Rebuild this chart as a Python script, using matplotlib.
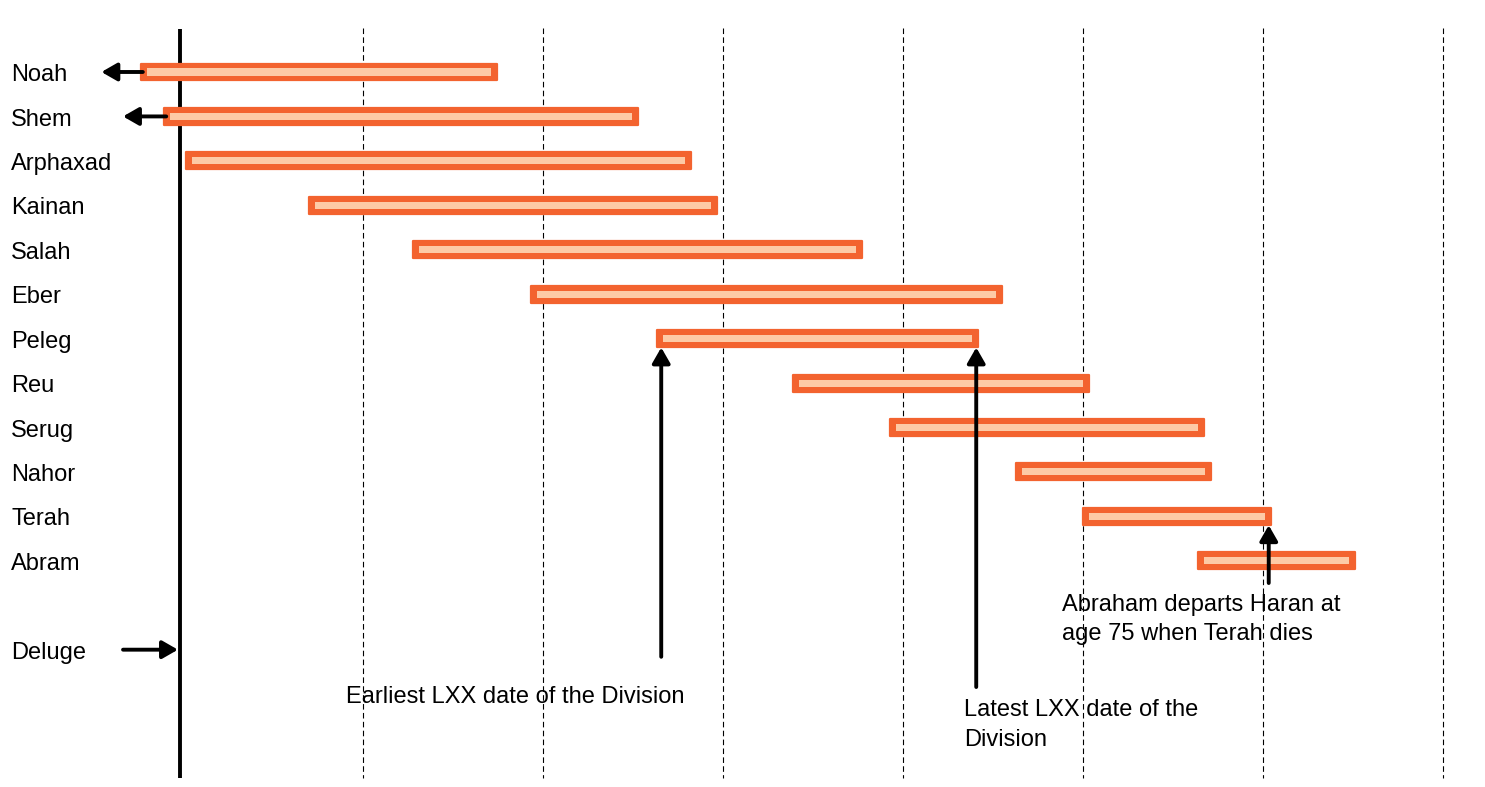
import matplotlib
matplotlib.use("Agg")
import matplotlib.pyplot as plt

plt.rcParams["font.family"] = ["Liberation Sans", "DejaVu Sans"]

# Years after the Deluge (bar start / end)
names = ["Noah", "Shem", "Arphaxad", "Kainan", "Salah", "Eber", "Peleg",
         "Reu", "Serug", "Nahor", "Terah", "Abram"]
starts = [-48, -22, 2, 139, 254, 386, 526, 677, 784, 924, 999, 1127]
ends = [349, 506, 565, 594, 755, 910, 884, 1007, 1135, 1143, 1209, 1303]
grid_years = [200, 400, 600, 800, 1000, 1200, 1400]
deluge_x = -4

ORANGE = "#F3632F"
PEACH = "#FDCAA6"
FS = 17

fig = plt.figure(figsize=(14.85, 7.87), dpi=100)
ax = fig.add_axes([0, 0, 1, 1])
# 0.9 px per year, year 200 sits at pixel 363
ax.set_xlim(-203.7, 1446.3)
ax.set_ylim(16.09, -1.62)
ax.axis("off")

rows = list(range(len(names)))

# grid + deluge line
ax.vlines(grid_years, -1.0, 15.88, colors="black", linewidth=0.8,
          linestyles=(0, (5, 3)), zorder=1)
ax.vlines(deluge_x, -0.97, 15.88, colors="black", linewidth=2.8, zorder=1)

# lifespans
widths = [e - s for s, e in zip(starts, ends)]
ax.barh(rows, [w - 1.5 for w in widths], left=[s + 0.75 for s in starts],
        height=0.38, color=ORANGE, edgecolor=ORANGE, linewidth=1.6,
        joinstyle="round", zorder=2)
inset = 7.5
ax.barh(rows, [w - 2 * inset for w in widths], left=[s + inset for s in starts],
        height=0.16, color=PEACH, zorder=3)

for r, n in zip(rows, names):
    ax.text(-191.4, r + 0.07, n, fontsize=FS, va="center", ha="left")
ax.text(-191.4, 13.07, "Deluge", fontsize=FS, va="center", ha="left")

ap = dict(arrowstyle="-|>,head_length=0.47,head_width=0.27", color="black",
          lw=2.8, shrinkA=0, shrinkB=0, mutation_scale=20)

# lifespans extending before the Deluge
ax.annotate("", xy=(-91, 0), xytext=(starts[0] + 3, 0), arrowprops=ap, zorder=4)
ax.annotate("", xy=(-67, 1), xytext=(starts[1] + 3, 1), arrowprops=ap, zorder=4)
# Deluge pointer
ax.annotate("", xy=(-6, 13), xytext=(-67, 13), arrowprops=ap, zorder=4)

# Division of the earth (Peleg)
ax.annotate("", xy=(531, 6.2), xytext=(531, 13.16), arrowprops=ap, zorder=4)
ax.annotate("", xy=(881, 6.2), xytext=(881, 13.84), arrowprops=ap, zorder=4)
ax.text(180.8, 14.06, "Earliest LXX date of the Division", fontsize=FS,
        va="center", ha="left")
ax.text(867.4, 14.7, "Latest LXX date of the\nDivision", fontsize=FS,
        va="center", ha="left", linespacing=1.46)

# Terah's death
ax.annotate("", xy=(1206, 10.2), xytext=(1206, 11.5), arrowprops=ap, zorder=4)
ax.text(976.3, 12.32, "Abraham departs Haran at\nage 75 when Terah dies",
        fontsize=FS, va="center", ha="left", linespacing=1.43)

fig.savefig("out.png", dpi=100, facecolor="white")
